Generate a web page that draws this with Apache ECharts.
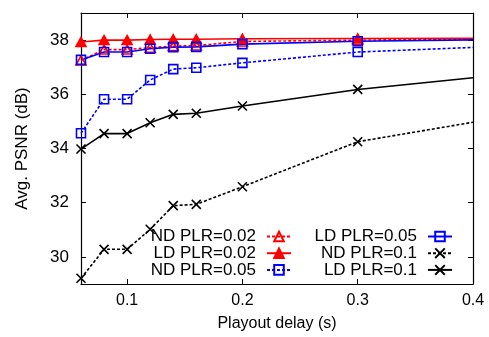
<!DOCTYPE html>
<html><head><meta charset="utf-8">
<script src="https://cdn.jsdelivr.net/npm/echarts@6/dist/echarts.min.js"></script>
<style>html,body{margin:0;padding:0;background:#fff}#c{width:489px;height:337px}</style>
</head><body><div id="c"></div>
<script>
const delays = [0.06, 0.08, 0.1, 0.12, 0.14, 0.16, 0.2, 0.3, 0.4];
const ndPlr002 = [37.25, 37.65, 37.65, 37.72, 37.78, 37.80, 37.95, 38.00, 38.04];
const ldPlr002 = [37.93, 38.00, 38.00, 38.02, 38.03, 38.03, 38.05, 38.06, 38.07];
const ndPlr005 = [34.56, 35.82, 35.82, 36.53, 36.93, 36.98, 37.16, 37.56, 37.73];
const ldPlr005 = [37.27, 37.56, 37.56, 37.68, 37.74, 37.75, 37.85, 37.96, 38.01];
const ndPlr01 = [29.21, 30.28, 30.28, 31.02, 31.89, 31.94, 32.59, 34.25, 34.97];
const ldPlr01 = [33.98, 34.55, 34.55, 34.95, 35.26, 35.30, 35.57, 36.18, 36.61];
const xTicks = [0.1, 0.2, 0.3, 0.4];
const yTicks = [30, 32, 34, 36, 38];

const seriesNames = ['ND PLR=0.02','LD PLR=0.02','ND PLR=0.05','LD PLR=0.05','ND PLR=0.1','LD PLR=0.1'];
const seriesData = [ndPlr002, ldPlr002, ndPlr005, ldPlr005, ndPlr01, ldPlr01];
const colors = ['#ff0000','#ff0000','#0000ff','#0000ff','#000000','#000000'];
const fills = ['rgba(0,0,0,0)','#ff0000','rgba(0,0,0,0)','rgba(0,0,0,0)','#000000','#000000'];
const dashed = [true,false,true,false,true,false];
const crossPath = 'path://M0,0L10,10M10,0L0,10';
const triPath = 'path://M5,0L10,9L0,9Z';
const rectPath = 'path://M0,0H10V10H0Z';
const symbols = [triPath, triPath, rectPath, rectPath, crossPath, crossPath];
const sizes = [[10,9],[10,9],[9,9],[9,9],[9,9],[9,9]];
const lastIdx = delays.length - 1;

const series = seriesNames.map((name, i) => ({
  name: name,
  type: 'line',
  data: delays.map((d, k) => k === lastIdx
    ? {value: [d, seriesData[i][k]], symbol: 'none'}
    : [d, seriesData[i][k]]),
  symbol: symbols[i],
  symbolSize: sizes[i],
  showAllSymbol: true,
  clip: true,
  animation: false,
  lineStyle: {color: colors[i], width: 1.6, type: dashed[i] ? [3, 2] : 'solid'},
  itemStyle: {color: fills[i], borderColor: colors[i], borderWidth: 1.6},
  emphasis: {disabled: true}
}));

const legendSpots = [
  {right: 197, top: 228}, {right: 197, top: 244.7}, {right: 197, top: 261.4},
  {right: 36, top: 228}, {right: 36, top: 244.7}, {right: 36, top: 261.4}
];
const legends = seriesNames.map((n, i) => ({
  data: [n],
  right: legendSpots[i].right,
  top: legendSpots[i].top,
  align: 'right',
  padding: 0,
  itemWidth: 24,
  itemHeight: 12,
  selectedMode: false,
  textStyle: {fontFamily: 'Liberation Sans', fontSize: 17, color: '#000', lineHeight: 17, padding: [0, 6, 0, 0]}
}));

const axisFont = {fontFamily: 'Liberation Sans', fontSize: 16, color: '#000'};
const chart = echarts.init(document.getElementById('c'), null, {renderer: 'canvas'});
chart.setOption({
  backgroundColor: '#fff',
  animation: false,
  grid: {left: 81, right: 16, top: 13, bottom: 52, containLabel: false},
  legend: legends,
  xAxis: [{
    type: 'value', min: 0.06, max: 0.4, position: 'bottom',
    name: 'Playout delay (s)', nameLocation: 'middle', nameGap: 32,
    nameTextStyle: axisFont,
    axisLine: {show: true, onZero: false, lineStyle: {color: '#000', width: 1.2}},
    axisTick: {show: true, inside: true, length: 5, customValues: xTicks, lineStyle: {color: '#000'}},
    axisLabel: Object.assign({margin: 9, customValues: xTicks, formatter: v => String(v)}, axisFont),
    splitLine: {show: false}
  }, {
    type: 'value', min: 0.06, max: 0.4, position: 'top',
    axisLine: {show: true, onZero: false, lineStyle: {color: '#000', width: 1.2}},
    axisTick: {show: true, inside: true, length: 5, customValues: xTicks, lineStyle: {color: '#000'}},
    axisLabel: {show: false},
    splitLine: {show: false}
  }],
  yAxis: [{
    type: 'value', min: 29, max: 39, position: 'left',
    name: 'Avg. PSNR (dB)', nameLocation: 'middle', nameGap: 50, nameRotate: 90,
    nameTextStyle: {fontFamily: 'Liberation Sans', fontSize: 17, color: '#000'},
    axisLine: {show: true, onZero: false, lineStyle: {color: '#000', width: 1.2}},
    axisTick: {show: true, inside: true, length: 5, customValues: yTicks, lineStyle: {color: '#000'}},
    axisLabel: Object.assign({margin: 12, customValues: yTicks}, axisFont, {fontSize: 17}),
    splitLine: {show: false}
  }, {
    type: 'value', min: 29, max: 39, position: 'right',
    axisLine: {show: true, onZero: false, lineStyle: {color: '#000', width: 1.2}},
    axisTick: {show: true, inside: true, length: 5, customValues: yTicks, lineStyle: {color: '#000'}},
    axisLabel: {show: false},
    splitLine: {show: false}
  }],
  series: series
});
</script></body></html>
